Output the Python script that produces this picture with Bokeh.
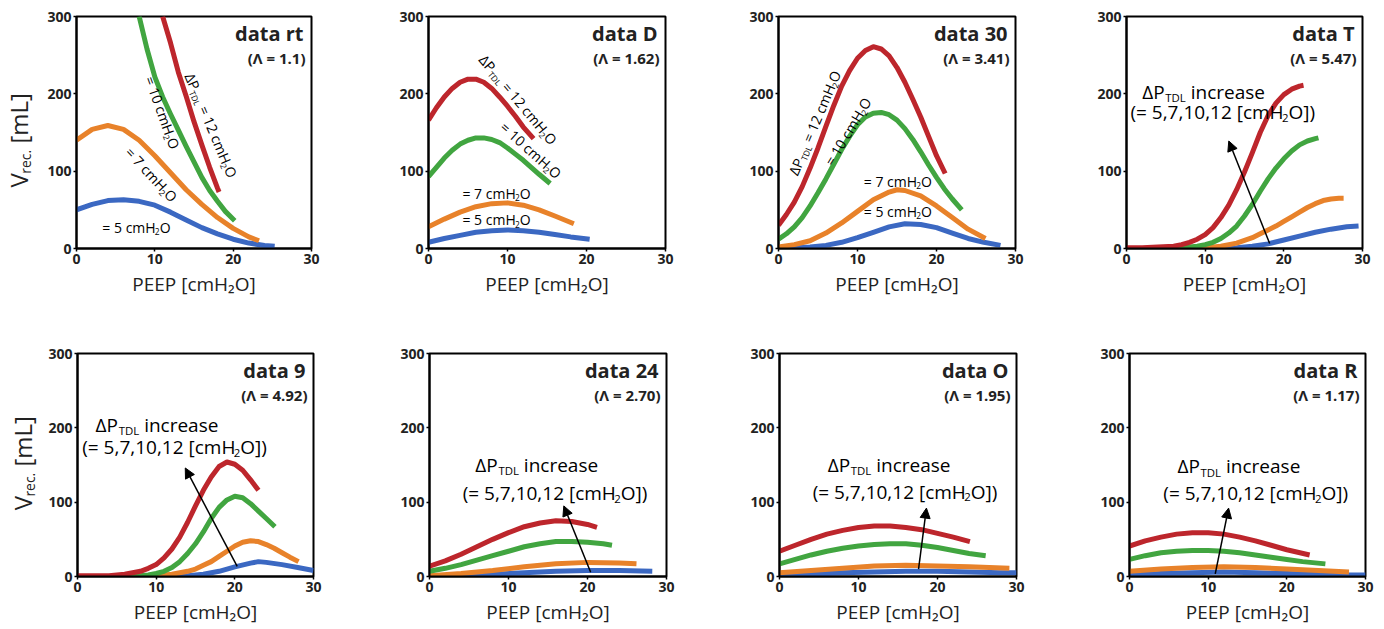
import math
from bokeh.plotting import figure
from bokeh.models import Range1d, FixedTicker, Label, Arrow, NormalHead
from bokeh.layouts import row, column
from bokeh.embed import file_html
from bokeh.resources import INLINE

# ---------------- data (PEEP [cmH2O] -> V_rec [mL]) ----------------
# data rt
RT_X5 = [0, 2, 4, 6, 8, 10, 12, 14, 16, 18, 20, 22, 24, 25.3]
RT_Y5 = [50, 57, 62, 63, 61, 56, 47, 37, 27, 19, 12, 7, 4, 3]
RT_X7 = [0, 2, 4, 6, 8, 10, 12, 14, 16, 18, 20, 22, 23.3]
RT_Y7 = [140, 154, 159, 154, 140, 120, 98, 76, 57, 40, 26, 15, 10]
RT_X10 = [8, 9, 10, 11, 12, 13, 14, 15, 16, 17, 18, 19, 20.2]
RT_Y10 = [300, 258, 222, 196, 174, 153, 132, 112, 92, 75, 61, 48, 36]
RT_X12 = [11, 12, 13, 14, 15, 16, 17, 18, 18.2]
RT_Y12 = [300, 266, 228, 197, 164, 134, 105, 78, 73]
# data D
D_X5 = [0, 2, 4, 6, 8, 10, 12, 14, 16, 18, 20.4]
D_Y5 = [8, 13, 17, 21, 23, 24, 23, 21, 18, 15, 12]
D_X7 = [0, 2, 4, 6, 8, 10, 12, 14, 16, 18.4]
D_Y7 = [28, 38, 47, 54, 58, 59, 56, 50, 42, 32]
D_X10 = [0, 1, 2, 3, 4, 5, 6, 7, 8, 9, 10, 11, 12, 13, 14, 15.4]
D_Y10 = [93, 105, 117, 127, 135, 140, 143, 143, 141, 137, 130, 122, 114, 105, 96, 84]
D_X12 = [0, 1, 2, 3, 4, 5, 6, 7, 8, 9, 10, 11, 12, 13.3]
D_Y12 = [166, 182, 196, 207, 215, 219, 219, 215, 207, 196, 184, 171, 157, 142]
# data 30
T30_X5 = [0, 2, 4, 6, 8, 10, 12, 14, 16, 18, 20, 22, 24, 26, 28.1]
T30_Y5 = [0, 1, 2, 4, 8, 14, 21, 28, 32, 31, 27, 20, 13, 8, 4]
T30_X7 = [0, 2, 4, 6, 8, 10, 12, 14, 15, 16, 18, 20, 22, 24, 26.2]
T30_Y7 = [2, 5, 10, 20, 33, 48, 63, 73, 76, 75, 68, 55, 40, 25, 13]
T30_X10 = [0, 1, 2, 3, 4, 5, 6, 7, 8, 9, 10, 11, 12, 13, 14, 15, 16, 17, 18, 19, 20, 21, 22, 23.2]
T30_Y10 = [12, 19, 28, 40, 55, 72, 90, 109, 128, 145, 160, 170, 175, 176, 173, 166, 155, 141, 125, 108, 92, 77, 64, 50]
T30_X12 = [0, 1, 2, 3, 4, 5, 6, 7, 8, 9, 10, 11, 12, 13, 14, 15, 16, 17, 18, 19, 20, 21.1]
T30_Y12 = [30, 44, 60, 80, 104, 130, 158, 185, 210, 230, 246, 256, 261, 258, 249, 234, 215, 193, 170, 145, 120, 97]
# data T
T_X5 = [0, 12, 14, 16, 18, 20, 22, 24, 26, 28, 29.5]
T_Y5 = [0, 0, 1, 3, 6, 11, 16, 21, 25, 28, 29]
T_X7 = [0, 8, 10, 12, 14, 16, 17, 18, 19, 20, 21, 22, 23, 24, 25, 26, 27, 27.6]
T_Y7 = [0, 0, 1, 3, 7, 14, 19, 24, 29, 35, 41, 47, 53, 58, 62, 64, 65, 65]
T_X10 = [0, 4, 6, 8, 9, 10, 11, 12, 13, 14, 15, 16, 17, 18, 19, 20, 21, 22, 23, 24, 24.4]
T_Y10 = [0, 0, 1, 2, 3, 5, 8, 13, 20, 29, 42, 57, 74, 90, 104, 116, 126, 134, 139, 142, 143]
T_X12 = [0, 2, 4, 6, 7, 8, 9, 10, 11, 12, 13, 14, 15, 16, 17, 18, 19, 20, 21, 22, 22.5]
T_Y12 = [1, 1, 2, 3, 5, 8, 12, 18, 27, 40, 56, 76, 99, 124, 150, 172, 188, 199, 206, 210, 211]
# data 9
N9_X5 = [0, 12, 14, 16, 18, 20, 22, 23, 24, 26, 28, 30]
N9_Y5 = [0, 0, 1, 3, 7, 13, 18, 20, 19, 16, 12, 8]
N9_X7 = [0, 8, 10, 12, 14, 15, 16, 17, 18, 19, 20, 21, 22, 23, 24, 25, 26, 27, 28.1]
N9_Y7 = [0, 0, 1, 3, 7, 10, 15, 20, 27, 34, 41, 46, 48, 47, 43, 38, 32, 26, 20]
N9_X10 = [0, 6, 8, 9, 10, 11, 12, 13, 14, 15, 16, 17, 18, 19, 20, 21, 22, 23, 24, 25.1]
N9_Y10 = [0, 0, 1, 2, 4, 7, 12, 20, 31, 44, 60, 78, 93, 103, 108, 106, 98, 88, 78, 67]
N9_X12 = [0, 2, 4, 6, 7, 8, 9, 10, 11, 12, 13, 14, 15, 16, 17, 18, 19, 20, 21, 22, 23]
N9_Y12 = [1, 1, 1, 3, 5, 7, 11, 16, 25, 37, 53, 73, 95, 116, 134, 148, 154, 151, 143, 130, 116]
# data 24
N24_X5 = [0, 4, 8, 12, 16, 20, 24, 28.2]
N24_Y5 = [0, 1, 3, 5, 7, 8, 8, 7]
N24_X7 = [0, 4, 8, 12, 16, 20, 24, 26.2]
N24_Y7 = [1, 4, 8, 13, 17, 19, 18, 17]
N24_X10 = [0, 2, 4, 6, 8, 10, 12, 14, 16, 18, 20, 22, 23.1]
N24_Y10 = [7, 11, 16, 22, 28, 34, 40, 44, 47, 47, 46, 44, 42]
N24_X12 = [0, 2, 4, 6, 8, 10, 12, 14, 16, 18, 20, 21.2]
N24_Y12 = [14, 21, 30, 40, 50, 59, 67, 72, 75, 74, 70, 66]
# data O
O_X5 = [0, 4, 8, 12, 16, 20, 24, 28, 30]
O_Y5 = [1, 3, 5, 6, 7, 7, 6, 5, 5]
O_X7 = [0, 4, 8, 12, 16, 20, 24, 29.1]
O_Y7 = [5, 8, 11, 14, 15, 14, 13, 11]
O_X10 = [0, 2, 4, 6, 8, 10, 12, 14, 16, 18, 20, 22, 24, 26.1]
O_Y10 = [17, 23, 29, 34, 38, 41, 43, 44, 44, 42, 39, 35, 31, 28]
O_X12 = [0, 2, 4, 6, 8, 10, 12, 14, 16, 18, 20, 22, 24.1]
O_Y12 = [34, 42, 50, 57, 62, 66, 68, 68, 66, 63, 58, 53, 47]
# data R
R_X5 = [0, 4, 8, 12, 16, 20, 24, 28, 30]
R_Y5 = [2, 4, 5, 6, 5, 4, 3, 2, 2]
R_X7 = [0, 4, 8, 12, 16, 20, 24, 27.9]
R_Y7 = [7, 10, 12, 13, 12, 10, 8, 6]
R_X10 = [0, 2, 4, 6, 8, 10, 12, 14, 16, 18, 20, 22, 24.9]
R_Y10 = [23, 28, 32, 34, 35, 35, 34, 32, 29, 26, 23, 20, 17]
R_X12 = [0, 2, 4, 6, 8, 10, 12, 14, 16, 18, 20, 22.9]
R_Y12 = [41, 48, 53, 57, 59, 59, 57, 53, 48, 42, 36, 29]

TITLES = ["data rt", "data D", "data 30", "data T", "data 9", "data 24", "data O", "data R"]
LAMBDAS = ["(Λ = 1.1)", "(Λ = 1.62)", "(Λ = 3.41)", "(Λ = 5.47)",
           "(Λ = 4.92)", "(Λ = 2.70)", "(Λ = 1.95)", "(Λ = 1.17)"]
X_TICKS = [0, 10, 20, 30]
Y_TICKS = [0, 100, 200, 300]

FONT = "Open Sans"
INK = "#222222"
COL = {5: "#3b68c2", 7: "#e8822a", 10: "#41a540", 12: "#bd262c"}

CW = {" ": 0.26, "=": 0.572, "(": 0.296, ")": 0.296, ",": 0.245, ".": 0.266,
      "[": 0.339, "]": 0.339, "c": 0.478, "m": 0.855, "H": 0.751, "O": 0.788,
      "P": 0.595, "T": 0.553, "D": 0.729, "L": 0.518, "Δ": 0.62, "i": 0.253,
      "n": 0.614, "r": 0.408, "e": 0.561, "a": 0.56, "s": 0.477, "V": 0.573}


def tw(s, size):
    return sum(CW.get(ch, 0.572) for ch in s) * size


def rich(p, x, y, segs, angle_deg=0.0, size=14.0, color="black"):
    """Text made of segments laid out along one line; (x, y) is the middle of its start."""
    a = math.radians(angle_deg)
    ux, uy = math.cos(a), math.sin(a)
    dx, dy = math.sin(a), -math.cos(a)
    adv = 0.0
    for text, rel, sub in segs:
        fs = size * rel
        stripped = text.lstrip(" ")
        adv += tw(text[:len(text) - len(stripped)], fs)
        shift = sub * size
        p.add_layout(Label(x=x, y=y, x_offset=adv * ux + shift * dx,
                           y_offset=adv * uy + shift * dy, text=stripped,
                           angle=a, text_font=FONT, text_font_size=f"{fs:.1f}px",
                           text_baseline="middle", text_align="left",
                           text_color=color))
        adv += tw(stripped, fs)


SUB = 0.3


def dp_segs(v):
    return [("ΔP", 1, 0), ("TDL", 0.6, SUB), (f" = {v} cmH", 1, 0), ("2", 0.6, SUB), ("O", 1, 0)]


def eq_segs(v):
    return [(f"= {v} cmH", 1, 0), ("2", 0.6, SUB), ("O", 1, 0)]


INC1 = [("ΔP", 1, 0), ("TDL", 0.6, SUB), (" increase", 1, 0)]
INC2 = [("(= 5,7,10,12 [cmH", 1, 0), ("2", 0.6, SUB), ("O])", 1, 0)]
YLAB = [("V", 1, 0), ("rec.", 0.58, 0.3), (" [mL]", 1, 0)]


def ylabel_strip(w, h, bt, bb, x, y):
    q = figure(width=w, height=h, x_range=Range1d(0, w), y_range=Range1d(0, 300),
               x_axis_type=None, y_axis_type=None, output_backend="svg",
               toolbar_location=None, min_border_left=0,
               min_border_right=0, min_border_top=bt, min_border_bottom=bb,
               outline_line_color=None, background_fill_color="white",
               border_fill_color="white")
    q.xgrid.visible = False
    q.ygrid.visible = False
    rich(q, x, y, YLAB, 90, 24, INK)
    return q


def panel(w, h, bl, br, bt, bb, curves, idx):
    p = figure(width=w, height=h, x_range=Range1d(0, 30), y_range=Range1d(0, 300),
               output_backend="svg", toolbar_location=None,
               min_border_left=bl, min_border_right=br, min_border_top=bt,
               min_border_bottom=bb, background_fill_color="white",
               border_fill_color="white")
    p.xgrid.visible = False
    p.ygrid.visible = False
    p.outline_line_color = "black"
    p.outline_line_width = 2
    p.outline_line_alpha = 1
    p.xaxis.ticker = FixedTicker(ticks=X_TICKS)
    p.yaxis.ticker = FixedTicker(ticks=Y_TICKS)
    for ax in (p.xaxis[0], p.yaxis[0]):
        ax.axis_line_width = 2
        ax.major_tick_line_width = 1.5
        ax.major_tick_out = 3
        ax.major_tick_in = 0
        ax.minor_tick_out = 0
        ax.minor_tick_in = 0
        ax.major_label_text_font = FONT
        ax.major_label_text_font_size = "14px"
        ax.major_label_text_font_style = "bold"
        ax.major_label_text_color = INK
        ax.major_label_standoff = 2
    p.xaxis.axis_label = "PEEP [cmH₂O]"
    p.xaxis.axis_label_text_font = FONT
    p.xaxis.axis_label_text_font_size = "19px"
    p.xaxis.axis_label_text_font_style = "normal"
    p.xaxis.axis_label_text_color = INK
    p.xaxis.axis_label_standoff = 4
    for xs, ys, key in curves:
        p.line(xs, ys, line_width=5, line_color=COL[key], line_join="round")
    p.add_layout(Label(x=30, y=300, x_offset=-8, y_offset=-17, text=TITLES[idx],
                       text_font=FONT, text_font_size="20px", text_font_style="bold",
                       text_align="right", text_baseline="middle", text_color=INK))
    p.add_layout(Label(x=30, y=300, x_offset=-6, y_offset=-41, text=LAMBDAS[idx],
                       text_font=FONT, text_font_size="15px", text_font_style="bold",
                       text_align="right", text_baseline="middle", text_color=INK))
    return p


def arrow(p, x0, y0, x1, y1):
    p.add_layout(Arrow(end=NormalHead(size=10, fill_color="black", line_color="black"),
                       x_start=x0, y_start=y0, x_end=x1, y_end=y1,
                       line_width=1.5, line_color="black"))


def crv(xs5, ys5, xs7, ys7, xs10, ys10, xs12, ys12):
    return [(xs5, ys5, 5), (xs7, ys7, 7), (xs10, ys10, 10), (xs12, ys12, 12)]


# row 1
y1 = ylabel_strip(44, 308, 16, 60, 18, 79)
p1 = panel(306, 308, 30, 39, 16, 60, crv(RT_X5, RT_Y5, RT_X7, RT_Y7, RT_X10, RT_Y10, RT_X12, RT_Y12), 0)
rich(p1, 14.4, 226, dp_segs(12), -67, 14)
rich(p1, 9.3, 222, eq_segs(10), -70, 14)
rich(p1, 6.6, 128, eq_segs(7), -47, 14)
rich(p1, 3.3, 27, eq_segs(5), 0, 14)

p2 = panel(345, 308, 78, 30, 16, 60, crv(D_X5, D_Y5, D_X7, D_Y7, D_X10, D_Y10, D_X12, D_Y12), 1)
rich(p2, 6.8, 248, dp_segs(12), -50, 14)
rich(p2, 9.4, 160, eq_segs(10), -42, 14)
rich(p2, 4.3, 71, eq_segs(7), 0, 14)
rich(p2, 4.3, 37, eq_segs(5), 0, 14)

p3 = panel(345, 308, 83, 25, 16, 60, crv(T30_X5, T30_Y5, T30_X7, T30_Y7, T30_X10, T30_Y10, T30_X12, T30_Y12), 2)
rich(p3, 1.8, 96, dp_segs(12), 67, 14)
rich(p3, 6.3, 109, eq_segs(10), 59, 14)
rich(p3, 10.8, 87, eq_segs(7), 0, 14)
rich(p3, 10.8, 48, eq_segs(5), 0, 14)

p4 = panel(344, 308, 86, 22, 16, 60, crv(T_X5, T_Y5, T_X7, T_Y7, T_X10, T_Y10, T_X12, T_Y12), 3)
rich(p4, 2.0, 202, INC1, 0, 19)
rich(p4, 0.5, 176, INC2, 0, 19)
arrow(p4, 18.2, 6.5, 13.0, 139)

# row 2
y5 = ylabel_strip(44, 321, 44, 48, 22, 89)
p5 = panel(306, 321, 33, 37, 44, 48, crv(N9_X5, N9_Y5, N9_X7, N9_Y7, N9_X10, N9_Y10, N9_X12, N9_Y12), 4)
rich(p5, 2.3, 204, INC1, 0, 19)
rich(p5, 0.6, 174, INC2, 0, 19)
arrow(p5, 20.3, 13.5, 13.7, 146)

p6 = panel(345, 321, 79, 29, 45, 46, crv(N24_X5, N24_Y5, N24_X7, N24_Y7, N24_X10, N24_Y10, N24_X12, N24_Y12), 5)
rich(p6, 5.8, 150, INC1, 0, 19)
rich(p6, 4.2, 112, INC2, 0, 19)
arrow(p6, 20.4, 5.7, 17.0, 95)

p7 = panel(345, 321, 84, 24, 39, 51, crv(O_X5, O_Y5, O_X7, O_Y7, O_X10, O_Y10, O_X12, O_Y12), 6)
rich(p7, 6.1, 150, INC1, 0, 19)
rich(p7, 4.2, 114, INC2, 0, 19)
arrow(p7, 17.6, 10, 18.6, 92)

p8 = panel(344, 321, 89, 19, 37, 53, crv(R_X5, R_Y5, R_X7, R_Y7, R_X10, R_Y10, R_X12, R_Y12), 7)
rich(p8, 6.1, 148, INC1, 0, 19)
rich(p8, 4.3, 112, INC2, 0, 19)
arrow(p8, 10.9, 3.5, 12.6, 92)

layout = column(row(y1, p1, p2, p3, p4), row(y5, p5, p6, p7, p8))
open("out.html", "w").write(file_html(layout, INLINE))
